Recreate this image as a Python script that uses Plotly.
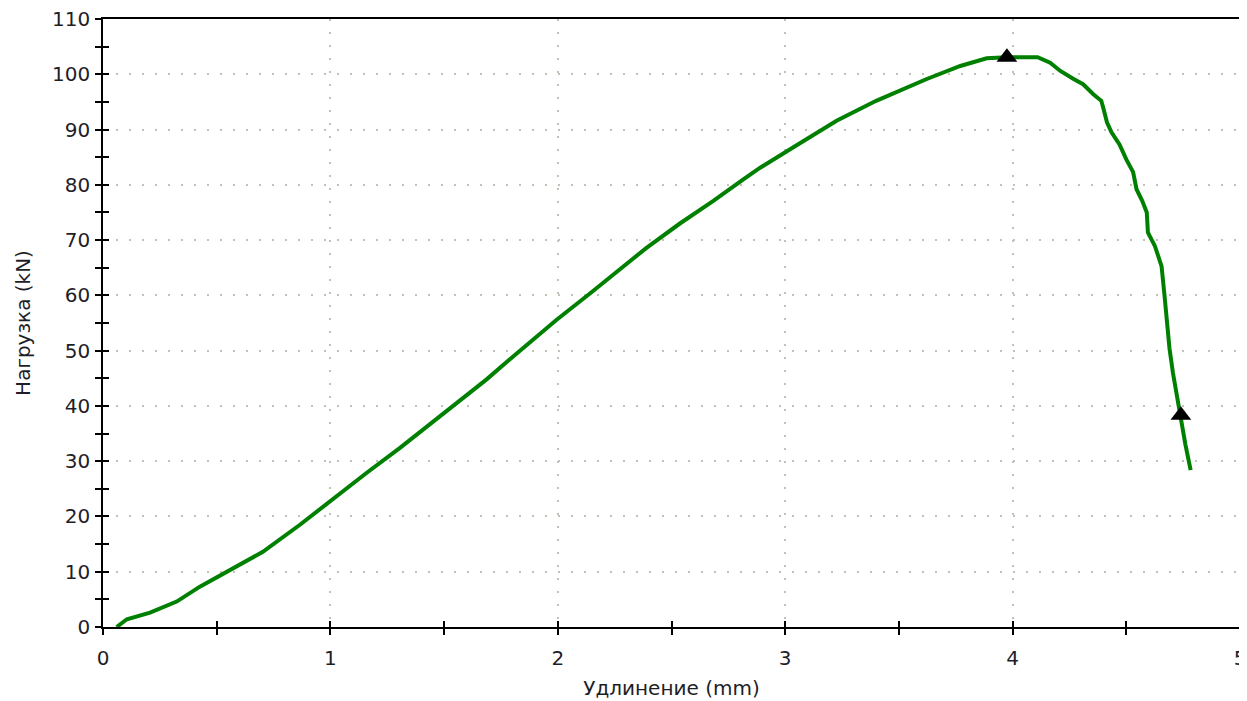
import plotly.graph_objects as go

# Elongation (mm) and load (kN)
elongation = [0.06, 0.105, 0.207, 0.324, 0.426, 0.572, 0.703, 0.866, 1.006, 1.16,
              1.306, 1.452, 1.60, 1.687, 1.805, 1.995, 2.14, 2.288, 2.39, 2.537,
              2.684, 2.816, 2.89, 3.036, 3.226, 3.40, 3.62, 3.77, 3.886, 3.975,
              4.11, 4.165, 4.21, 4.27, 4.31, 4.355, 4.39, 4.40, 4.415, 4.435,
              4.47, 4.50, 4.53, 4.545, 4.57, 4.59, 4.595, 4.626, 4.655, 4.668,
              4.683, 4.69, 4.705, 4.73, 4.74, 4.76, 4.783]
load = [0, 1.4, 2.6, 4.6, 7.3, 10.6, 13.6, 18.5, 23, 27.9,
        32.4, 37.2, 42.0, 44.8, 49, 55.6, 60.3, 65.2, 68.6, 73.0,
        77.1, 81.0, 83.1, 86.8, 91.6, 95.2, 99.1, 101.5, 102.9, 103.1,
        103.1, 102.1, 100.6, 99.1, 98.2, 96.4, 95.2, 93.7, 91.3, 89.5,
        87.3, 84.6, 82.3, 79.2, 77.1, 75.0, 71.4, 68.9, 65.3, 60,
        53.3, 50.4, 46, 40, 38.3, 33, 28.4]

marker_x = [3.975, 4.74]
marker_y = [103.1, 38.3]

x_title = "Удлинение (mm)"
y_title = "Нагрузка (kN)"
x_range = [0, 5]
y_range = [0, 110]

FONT = "DejaVu Sans"
FS = 20
TXT = "#1e1e28"
GRID = "#c2c2b6"

fig = go.Figure()
fig.add_trace(go.Scatter(x=elongation, y=load, mode="lines",
                         line=dict(color="#008000", width=4),
                         showlegend=False, hoverinfo="skip"))
fig.add_trace(go.Scatter(x=marker_x, y=marker_y, mode="markers",
                         marker=dict(symbol="triangle-up", size=18, color="black"),
                         showlegend=False, hoverinfo="skip"))
# dummy trace to activate the inner-tick overlay axes
fig.add_trace(go.Scatter(x=[None], y=[None], xaxis="x2", yaxis="y2",
                         showlegend=False, hoverinfo="skip"))

fig.update_layout(
    width=1239, height=693,
    margin=dict(l=95, r=7, t=11, b=74),
    paper_bgcolor="white", plot_bgcolor="white",
    font=dict(family=FONT, size=FS, color=TXT),
    xaxis=dict(range=x_range, dtick=1, tick0=0, automargin=False,
               showline=True, linecolor="black", linewidth=1.5, mirror=True,
               ticks="outside", ticklen=6, tickwidth=1.5, tickcolor="black",
               ticklabelstandoff=6, ticklabeloverflow="allow",
               minor=dict(dtick=0.5, ticks="outside", ticklen=6, tickwidth=1.5,
                          tickcolor="black", showgrid=False),
               showgrid=True, gridcolor=GRID, gridwidth=1.5, griddash="2px,11px",
               zeroline=False,
               tickfont=dict(family=FONT, size=FS, color=TXT),
               title=dict(text=x_title, font=dict(family=FONT, size=FS, color=TXT),
                          standoff=12)),
    yaxis=dict(range=y_range, dtick=10, tick0=0, automargin=False,
               showline=True, linecolor="black", linewidth=1.5, mirror=True,
               ticks="outside", ticklen=6, tickwidth=1.5, tickcolor="black",
               ticklabelstandoff=1, ticklabeloverflow="allow",
               minor=dict(dtick=5, ticks="outside", ticklen=6, tickwidth=1.5,
                          tickcolor="black", showgrid=False),
               showgrid=True, gridcolor=GRID, gridwidth=1.5, griddash="2px,11px",
               zeroline=False,
               tickfont=dict(family=FONT, size=FS, color=TXT),
               title=dict(text=y_title, font=dict(family=FONT, size=FS, color=TXT),
                          standoff=16)),
    xaxis2=dict(range=x_range, overlaying="x", anchor="y", side="bottom",
                dtick=1, tick0=0, ticks="inside", ticklen=6, tickwidth=1.5,
                tickcolor="black", showticklabels=False, showgrid=False,
                showline=False, zeroline=False, automargin=False,
                minor=dict(dtick=0.5, ticks="inside", ticklen=6, tickwidth=1.5,
                           tickcolor="black", showgrid=False)),
    yaxis2=dict(range=y_range, overlaying="y", anchor="x", side="left",
                dtick=10, tick0=0, ticks="inside", ticklen=6, tickwidth=1.5,
                tickcolor="black", showticklabels=False, showgrid=False,
                showline=False, zeroline=False, automargin=False,
                minor=dict(dtick=5, ticks="inside", ticklen=6, tickwidth=1.5,
                           tickcolor="black", showgrid=False)),
)

fig.write_html("out.html")
